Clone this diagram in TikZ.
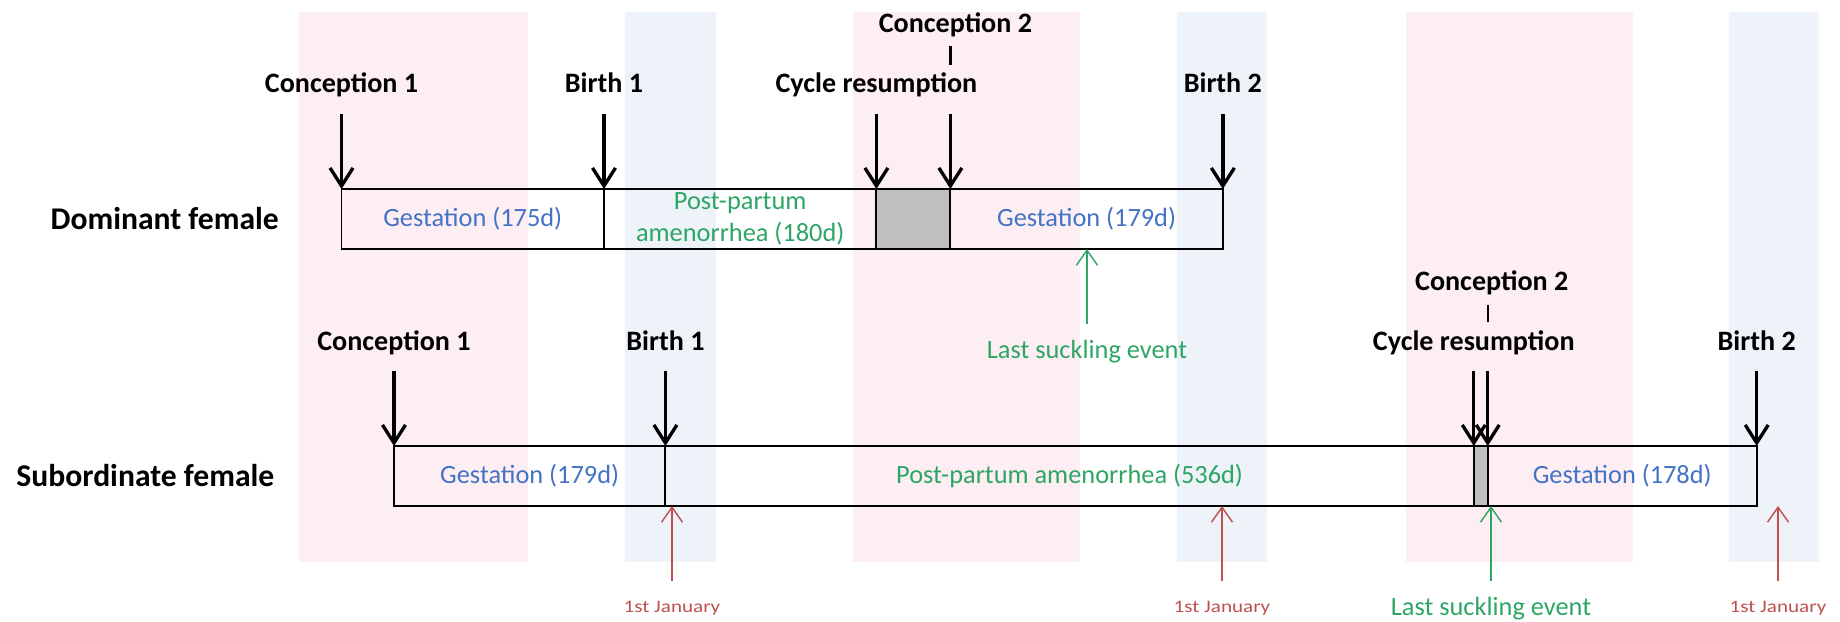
\documentclass[tikz,border=0pt]{standalone}
\usepackage{fontspec}
\setmainfont{Carlito}
\newfontfamily\janfont[FakeStretch=1.2]{Carlito}
\usetikzlibrary{arrows.meta, positioning}
\definecolor{cPink}{RGB}{253, 238, 244}
\definecolor{cBlue}{RGB}{238, 243, 250}
\definecolor{cCycle}{RGB}{191, 191, 191}
\definecolor{tBlue}{RGB}{68, 114, 196}
\definecolor{tGreen}{RGB}{45, 165, 100}
\definecolor{tRed}{RGB}{192, 80, 77}

\begin{document}
\begin{tikzpicture}[
    x=0.02cm, y=-0.02cm,
    seg/.style={
        draw,
        line width=1.1pt,
        minimum height=1.2cm,
        inner sep=0pt,
        outer sep=0pt,
        align=center,
        font=\fontsize{15}{18.2}\selectfont
    },
    gest/.style={seg, text=tBlue},
    amen/.style={seg, text=tGreen},
    cyc/.style={seg, fill=cCycle},
    evlbl/.style={anchor=base, font=\fontsize{16}{19}\selectfont\bfseries},
    rowlbl/.style={font=\fontsize{18}{21}\selectfont\bfseries},
    evt/.style={-{Straight Barb[length=0.36cm, width=0.46cm]}, line width=1.9pt},
    tick/.style={line width=1.4pt},
    jan/.style={-{Straight Barb[length=0.3cm, width=0.42cm]}, line width=0.8pt, color=tRed},
    suck/.style={jan, color=tGreen},
    janlbl/.style={anchor=base, text=tRed, font=\janfont\fontsize{10}{12}\selectfont},
    sucklbl/.style={anchor=base, text=tGreen, font=\fontsize{15}{18}\selectfont}
]
\useasboundingbox (0,0) rectangle (1840,622);

% Season bands
\foreach \xa/\xb in {299/528, 853/1080, 1406/1633}
    \fill[cPink] (\xa,12) rectangle (\xb,562);
\foreach \xa/\xb in {625/716, 1177/1267, 1729/1819}
    \fill[cBlue] (\xa,12) rectangle (\xb,562);

% Dominant female
\node[gest, minimum width=5.25cm] (dg1) at (472.75,219) {Gestation (175d)};
\node[amen, minimum width=5.45cm, right=0pt of dg1] (dpa) {Post-partum\\amenorrhea (180d)};
\node[cyc, minimum width=1.48cm, right=0pt of dpa] (dcy) {};
\node[gest, minimum width=5.45cm, right=0pt of dcy] (dg2) {Gestation (179d)};
\node[rowlbl, left=1.13cm of dg1] (dom) {Dominant female};

\node[evlbl] (dc1) at ([yshift=1.94cm]dg1.north west) {Conception 1};
\node[evlbl] (db1) at ([yshift=1.94cm]dg1.north east) {Birth 1};
\node[evlbl] (dcr) at ([yshift=1.94cm]dcy.north west) {Cycle resumption};
\node[evlbl] (dc2) at ([xshift=0.1cm, yshift=3.14cm]dcy.north east) {Conception 2};
\node[evlbl] (db2) at ([yshift=1.94cm]dg2.north east) {Birth 2};

\draw[evt] ([yshift=1.5cm]dg1.north west) -- (dg1.north west);
\draw[evt] ([yshift=1.5cm]dg1.north east) -- (dg1.north east);
\draw[evt] ([yshift=1.5cm]dcy.north west) -- (dcy.north west);
\draw[evt] ([yshift=1.5cm]dcy.north east) -- (dcy.north east);
\draw[evt] ([yshift=1.5cm]dg2.north east) -- (dg2.north east);
\draw[tick] ([yshift=2.86cm]dcy.north east) -- ([yshift=2.48cm]dcy.north east);

\node[sucklbl] (dls) at (1087,358) {Last suckling event};
\draw[suck] ([yshift=-1.5cm]dls |- dg2.south) -- (dls |- dg2.south);

% Subordinate female
\node[gest, minimum width=5.43cm] (sg1) at (529.7,476) {Gestation (179d)};
\node[amen, minimum width=16.17cm, right=0pt of sg1] (spa) {Post-partum amenorrhea (536d)};
\node[cyc, minimum width=0.28cm, right=0pt of spa] (scy) {};
\node[gest, minimum width=5.38cm, right=0pt of scy] (sg2) {Gestation (178d)};
\node[rowlbl, left=2.27cm of sg1] (sub) {Subordinate female};

\node[evlbl] (sc1) at ([yshift=1.92cm]sg1.north west) {Conception 1};
\node[evlbl] (sb1) at ([yshift=1.92cm]sg1.north east) {Birth 1};
\node[evlbl] (scr) at ([yshift=1.92cm]scy.north west) {Cycle resumption};
\node[evlbl] (sc2) at ([xshift=0.08cm, yshift=3.12cm]scy.north east) {Conception 2};
\node[evlbl] (sb2) at ([yshift=1.92cm]sg2.north east) {Birth 2};

\draw[evt] ([yshift=1.5cm]sg1.north west) -- (sg1.north west);
\draw[evt] ([yshift=1.5cm]sg1.north east) -- (sg1.north east);
\draw[evt] ([yshift=1.5cm]scy.north west) -- (scy.north west);
\draw[evt] ([yshift=1.5cm]scy.north east) -- (scy.north east);
\draw[evt] ([yshift=1.5cm]sg2.north east) -- (sg2.north east);
\draw[tick] ([yshift=2.82cm]scy.north east) -- ([yshift=2.48cm]scy.north east);

\node[janlbl] (jan1) at (672,612) {1st January};
\node[janlbl] (jan2) at (1222,612) {1st January};
\node[janlbl] (jan3) at (1778,612) {1st January};
\draw[jan] ([yshift=-1.5cm]jan1 |- spa.south) -- (jan1 |- spa.south);
\draw[jan] ([yshift=-1.5cm]jan2 |- spa.south) -- (jan2 |- spa.south);
\draw[jan] ([yshift=-1.5cm]jan3 |- sg2.south) -- (jan3 |- sg2.south);

\node[sucklbl] (sls) at (1491,615) {Last suckling event};
\draw[suck] ([yshift=-1.5cm]sls |- sg2.south) -- (sls |- sg2.south);

\end{tikzpicture}
\end{document}
